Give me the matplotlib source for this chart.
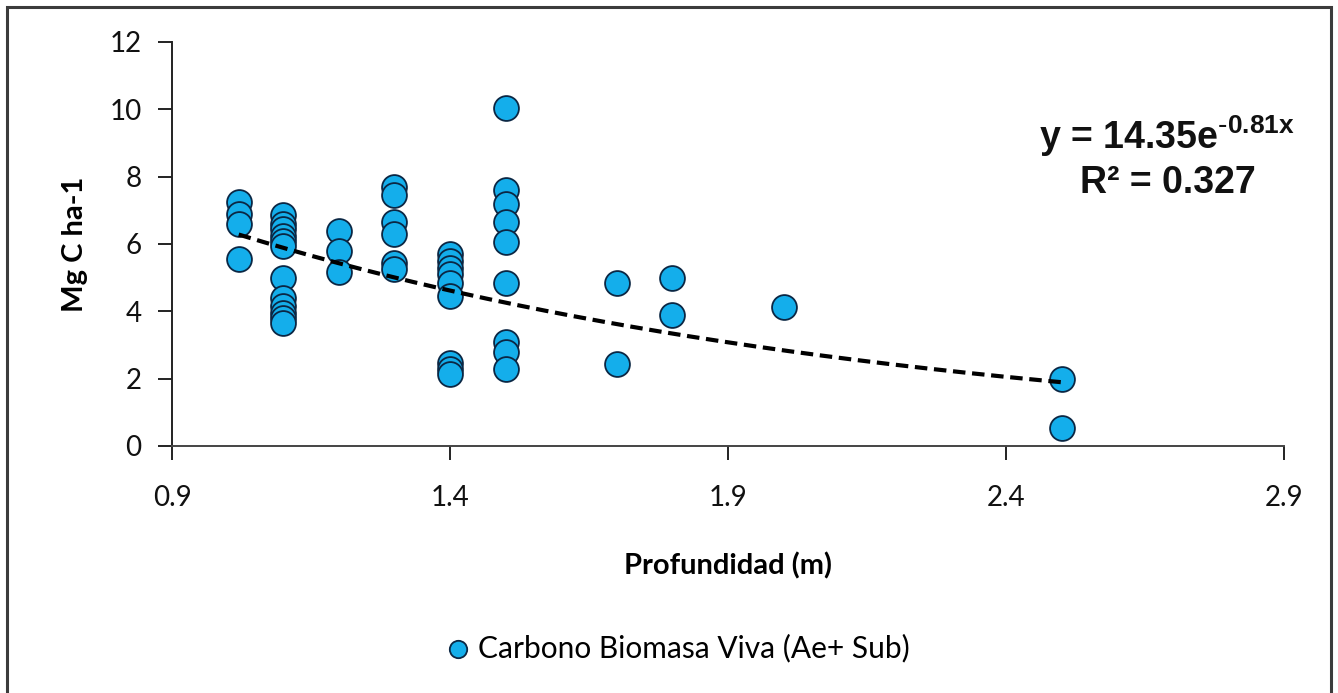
import numpy as np
import matplotlib.pyplot as plt
from matplotlib.patches import Rectangle


# ============================================================
# Data
# ============================================================

DEPTH = (
    [1.02] * 4
    + [1.1] * 12
    + [1.2] * 3
    + [1.3] * 6
    + [1.4] * 9
    + [1.5] * 9
    + [1.7] * 2
    + [1.8] * 2
    + [2.0]
    + [2.5] * 2
)

CARBON = [
    7.25, 6.9, 6.6, 5.55,
    6.85, 6.6, 6.45, 6.25, 6.1, 5.95, 5.0, 4.4, 4.15, 3.95, 3.8, 3.65,
    6.4, 5.8, 5.18,
    7.7, 7.45, 6.65, 6.3, 5.45, 5.25,
    5.7, 5.5, 5.3, 5.1, 4.85, 4.45, 2.48, 2.3, 2.15,
    10.05, 7.6, 7.2, 6.65, 6.05, 4.85, 3.1, 2.8, 2.28,
    4.85, 2.45,
    5.0, 3.88,
    4.12,
    1.98, 0.53,
]

FIT_A = 14.35
FIT_B = -0.81
FIT_R2 = 0.327

X_TICKS = [0.9, 1.4, 1.9, 2.4, 2.9]
Y_TICKS = [0, 2, 4, 6, 8, 10, 12]

SERIES_LABEL = "Carbono Biomasa Viva (Ae+ Sub)"
X_LABEL = "Profundidad (m)"
Y_LABEL = "Mg C ha-1"


# ============================================================
# Figure
# ============================================================

plt.rcParams["font.family"] = ["Lato", "DejaVu Sans"]

W, H = 1338, 693
fig = plt.figure(figsize=(W / 100, H / 100), dpi=100)
ax = fig.add_axes([172 / W, 1 - 446 / H, (1284 - 172) / W, (446 - 42) / H])

# outer frame of the chart area
fig.patches.append(Rectangle((7 / W, -0.05), 1324 / W, 1.05 - 7 / H,
                             transform=fig.transFigure, fill=False,
                             edgecolor="#3c3c3c", linewidth=2.2))

ax.scatter(DEPTH, CARBON, s=320, color="#14AEEB", edgecolor="#0b2744",
           linewidth=1.3, zorder=3, label=SERIES_LABEL)

# exponential trend line
x_fit = np.linspace(min(DEPTH), max(DEPTH), 200)
y_fit = FIT_A * np.exp(FIT_B * x_fit)
ax.plot(x_fit, y_fit, color="black", linestyle=(0, (3, 1.6)), linewidth=3,
        zorder=4)

ax.set_xlim(0.9, 2.9)
ax.set_ylim(0, 12)
ax.set_xticks(X_TICKS)
ax.set_yticks(Y_TICKS)
ax.set_xticklabels([f"{t:.1f}" for t in X_TICKS])

for side in ["top", "right"]:
    ax.spines[side].set_visible(False)
ax.spines["left"].set_color("#222222")
ax.spines["bottom"].set_color("#444444")
ax.spines["left"].set_linewidth(1.4)
ax.spines["bottom"].set_linewidth(1.4)

ax.tick_params(axis="both", direction="out", length=10, width=1.4,
               labelsize=20, colors="#222222", labelcolor="#111111")
ax.tick_params(axis="y", pad=12)
ax.tick_params(axis="x", pad=18)

ax.set_xlabel(X_LABEL, fontsize=21, fontweight="bold", labelpad=30)
ax.set_ylabel(Y_LABEL, fontsize=21, fontweight="bold", labelpad=15)

# equation of the fitted curve
eq_font = ["Liberation Sans", "DejaVu Sans"]
fig.text(1167 / W, 1 - 136 / H,
         "y = 14.35e$^{\\mathregular{\\text{-}0.81x}}$",
         fontsize=27, family=eq_font, fontweight="bold", ha="center",
         va="center", color="#111111")
fig.text(1168 / W, 1 - 183 / H, f"R² = {FIT_R2:.3f}",
         fontsize=27, family=eq_font, fontweight="bold", ha="center",
         va="center", color="#111111")

ax.legend(loc="center", bbox_to_anchor=(675 / W, 1 - 648 / H),
          bbox_transform=fig.transFigure, frameon=False, fontsize=21.5,
          markerscale=0.7, handletextpad=0.05, handlelength=1.2,
          borderpad=0)

fig.savefig("out.png", dpi=100)
